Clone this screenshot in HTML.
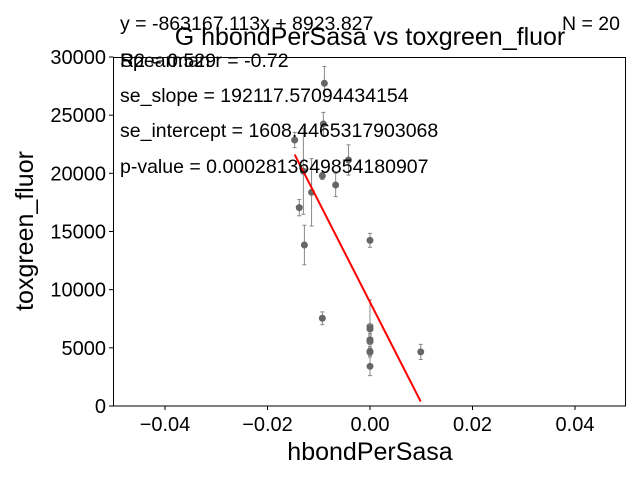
<!DOCTYPE html>
<html><head><meta charset="utf-8"><style>
body{margin:0;background:#fff}
svg{display:block;font-family:"Liberation Sans","DejaVu Sans",sans-serif}
</style></head><body>
<svg id="chart" width="640" height="480">
<g id="marks"></g>
<rect x="113.5" y="57.5" width="512" height="348.5" fill="none" stroke="#000" stroke-width="1"/>
<g id="ticks"></g>
<text x="370" y="45" font-size="25" text-anchor="middle">G hbondPerSasa vs toxgreen_fluor</text>
<text x="370" y="460" font-size="25" text-anchor="middle">hbondPerSasa</text>
<text transform="translate(33,231) rotate(-90)" font-size="25" text-anchor="middle">toxgreen_fluor</text>
<text x="120" y="30" font-size="19.5">y = -863167.113x + 8923.827</text>
<text x="620" y="30" font-size="19.5" text-anchor="end">N = 20</text>
<text x="120" y="67" font-size="19.5">R2 = 0.529</text>
<text x="120" y="67" font-size="19.5">Spearman r = -0.72</text>
<text x="120" y="102" font-size="19.5">se_slope = 192117.57094434154</text>
<text x="120" y="137" font-size="19.5">se_intercept = 1608.4465317903068</text>
<text x="120" y="173" font-size="19.5">p-value = 0.0002813649854180907</text>
</svg>
<script>
const xs=[-0.0089,-0.0091,-0.0147,-0.0042,-0.0130,-0.0093,-0.0067,-0.0114,-0.0138,-0.0128,0,-0.0093,0,0,0,0,0,0,0.0099,0];
const ys=[27740,24240,22860,21150,20180,19780,19000,18370,17050,13840,14240,7540,6820,6620,5530,4620,4700,3410,4650,5700];
const errs=[1450,1000,650,1300,3700,300,1000,2900,700,1700,600,550,2300,400,400,300,300,800,650,400];
const xTicks=[-0.04,-0.02,0.00,0.02,0.04];
const xTickLabels=["\u22120.04","\u22120.02","0.00","0.02","0.04"];
const yTicks=[0,5000,10000,15000,20000,25000,30000];
const slope=-863167.113, intercept=8923.827;
const X=v=>370+v*5125, Y=v=>406-v*349/30000;
const ns="http://www.w3.org/2000/svg";
const marks=document.getElementById('marks'), ticks=document.getElementById('ticks');
function mk(tag,attrs,parent){const e=document.createElementNS(ns,tag);for(const k in attrs)e.setAttribute(k,attrs[k]);parent.appendChild(e);return e;}
xs.forEach((x,i)=>{
  const cx=X(x),cy=Y(ys[i]),t=Y(ys[i]+errs[i]),b=Y(ys[i]-errs[i]);
  const g=mk('g',{},marks);
  
  
  mk('line',{x1:cx,x2:cx,y1:t,y2:b,stroke:'#888','stroke-width':1},g);
  mk('line',{x1:cx-2,x2:cx+2,y1:t,y2:t,stroke:'#888','stroke-width':1},g);
  mk('line',{x1:cx-2,x2:cx+2,y1:b,y2:b,stroke:'#888','stroke-width':1},g);
  const c=mk('circle',{cx:cx,cy:cy,r:3.5,fill:'#666'},marks);
  
  
});
const xmin=Math.min(...xs),xmax=Math.max(...xs);
const fl=mk('line',{x1:X(xmin),y1:Y(slope*xmin+intercept),x2:X(xmax),y2:Y(slope*xmax+intercept),stroke:'#ff0000','stroke-width':2},marks);


xTicks.forEach((v,i)=>{
  mk('line',{x1:X(v),x2:X(v),y1:406,y2:410,stroke:'#000'},ticks);
  const t=mk('text',{x:X(v),y:431,'font-size':20,'text-anchor':'middle'},ticks);
  t.textContent=xTickLabels[i];
  
  
});
yTicks.forEach(v=>{
  mk('line',{x1:109,x2:113.5,y1:Y(v),y2:Y(v),stroke:'#000'},ticks);
  const t=mk('text',{x:106,y:Y(v)+7,'font-size':20,'text-anchor':'end'},ticks);
  t.textContent=String(v);
  
  
});
</script>
</body></html>
